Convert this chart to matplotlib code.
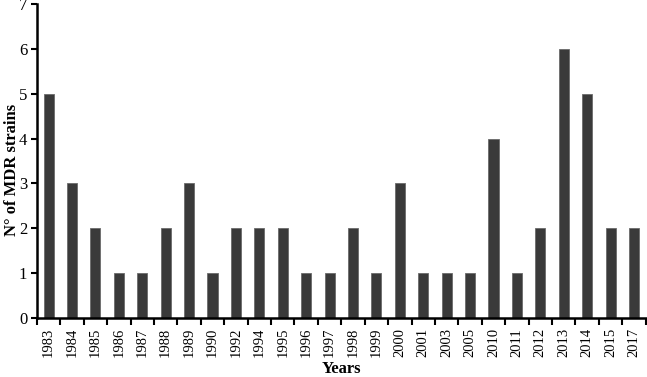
import matplotlib
matplotlib.use("Agg")
import matplotlib.pyplot as plt
import numpy as np

plt.rcParams['font.family'] = ['Liberation Serif', 'DejaVu Serif']

# Data
years = ['1983', '1984', '1985', '1986', '1987', '1988', '1989', '1990', '1992',
         '1994', '1995', '1996', '1997', '1998', '1999', '2000', '2001', '2003',
         '2005', '2010', '2011', '2012', '2013', '2014', '2015', '2017']
strains = [5, 3, 2, 1, 1, 2, 3, 1, 2, 2, 2, 1, 1, 2, 1, 3, 1, 1, 1, 4, 1, 2, 6, 5, 2, 2]

fig = plt.figure(figsize=(6.47, 3.77), dpi=100)
ax = fig.add_axes([0.057, 0.156, 0.941, 0.834])

x = np.arange(len(years))
ax.bar(x, strains, width=0.43, color='#3a3a3a', edgecolor='#6a6a6a', linewidth=0.6)

ax.set_xlim(-0.5, len(years) - 0.5)
ax.set_ylim(0, 7)
ax.set_yticks(range(8))

ax.set_xticks(x)
ax.set_xticklabels(years, rotation=90, fontsize=10.5)
ax.set_xticks(np.arange(-0.5, len(years)), minor=True)
ax.tick_params(axis='x', which='major', length=0, pad=7)
ax.tick_params(axis='x', which='minor', length=5, width=1.5, direction='out')
ax.tick_params(axis='y', length=4, width=1.5, direction='out', labelsize=12, pad=3)

for s in ['top', 'right']:
    ax.spines[s].set_visible(False)
for s in ['left', 'bottom']:
    ax.spines[s].set_linewidth(1.8)

ax.set_ylabel('N° of MDR strains', fontsize=12, fontweight='bold')
ax.yaxis.set_label_coords(-0.028, 0.47)
ax.set_xlabel('Years', fontsize=12, fontweight='bold')
ax.xaxis.set_label_coords(0.5, -0.137)

fig.savefig('out.png', dpi=100)
